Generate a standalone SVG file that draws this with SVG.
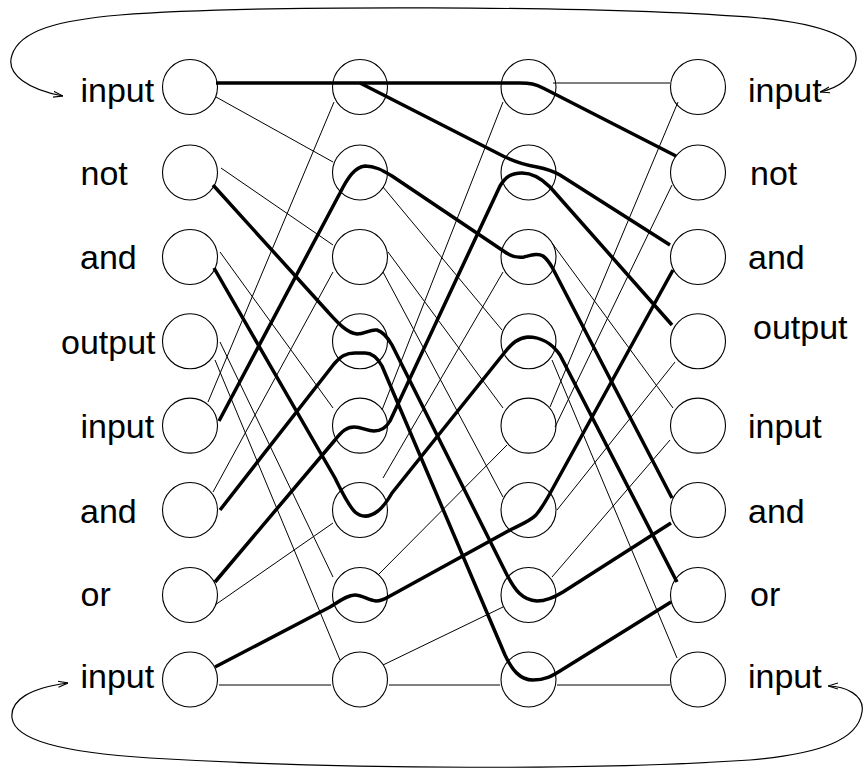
<svg xmlns="http://www.w3.org/2000/svg" width="865" height="773" viewBox="0 0 865 773">
<style>
#nodes circle { fill: #fff; stroke: #000; stroke-width: 1.1; }
.lbl { font-family: "Liberation Sans", Arial, sans-serif; font-size: 34px; fill: #000; }
.thin { fill: none; stroke: #000; stroke-width: 1; }
.thick { fill: none; stroke: #000; stroke-width: 3.5; stroke-linejoin: round; }
.loop { fill: none; stroke: #000; stroke-width: 1.2; marker-start: url(#ah); marker-end: url(#ah); }
</style>
<defs>
<marker id="ah" viewBox="0 0 10 10" refX="10" refY="5" markerWidth="10" markerHeight="10" markerUnits="userSpaceOnUse" orient="auto-start-reverse">
<path d="M0,2 L10,5 L0,8" fill="none" stroke="#000" stroke-width="1.1"/>
</marker>
</defs>
<rect width="865" height="773" fill="#fff"/>

<g id="nodes">
<g id="n1-0"><circle cx="190" cy="87" r="27.5"/><text class="lbl" x="80.5" y="102">input</text></g>
<g id="n1-1"><circle cx="190" cy="172.5" r="27.5"/><text class="lbl" x="80.5" y="185">not</text></g>
<g id="n1-2"><circle cx="190" cy="257" r="27.5"/><text class="lbl" x="80" y="269">and</text></g>
<g id="n1-3"><circle cx="190" cy="341.3" r="27.5"/><text class="lbl" x="61" y="354">output</text></g>
<g id="n1-4"><circle cx="190" cy="425.6" r="27.5"/><text class="lbl" x="80.5" y="438">input</text></g>
<g id="n1-5"><circle cx="190" cy="510" r="27.5"/><text class="lbl" x="80" y="523">and</text></g>
<g id="n1-6"><circle cx="190" cy="595" r="27.5"/><text class="lbl" x="80.5" y="606">or</text></g>
<g id="n1-7"><circle cx="190" cy="679.5" r="27.5"/><text class="lbl" x="80.5" y="688">input</text></g>

<g id="n2-0"><circle cx="360" cy="87" r="27.5"/></g>
<g id="n2-1"><circle cx="360" cy="172.5" r="27.5"/></g>
<g id="n2-2"><circle cx="360" cy="257" r="27.5"/></g>
<g id="n2-3"><circle cx="360" cy="341.3" r="27.5"/></g>
<g id="n2-4"><circle cx="360" cy="425.6" r="27.5"/></g>
<g id="n2-5"><circle cx="360" cy="510" r="27.5"/></g>
<g id="n2-6"><circle cx="360" cy="595" r="27.5"/></g>
<g id="n2-7"><circle cx="360" cy="679.5" r="27.5"/></g>

<g id="n3-0"><circle cx="528.5" cy="87" r="27.5"/></g>
<g id="n3-1"><circle cx="528.5" cy="172.5" r="27.5"/></g>
<g id="n3-2"><circle cx="528.5" cy="257" r="27.5"/></g>
<g id="n3-3"><circle cx="528.5" cy="341.3" r="27.5"/></g>
<g id="n3-4"><circle cx="528.5" cy="425.6" r="27.5"/></g>
<g id="n3-5"><circle cx="528.5" cy="510" r="27.5"/></g>
<g id="n3-6"><circle cx="528.5" cy="595" r="27.5"/></g>
<g id="n3-7"><circle cx="528.5" cy="679.5" r="27.5"/></g>

<g id="n4-0"><circle cx="698" cy="87" r="27.5"/><text class="lbl" x="748" y="102">input</text></g>
<g id="n4-1"><circle cx="698" cy="172.5" r="27.5"/><text class="lbl" x="750" y="185">not</text></g>
<g id="n4-2"><circle cx="698" cy="257" r="27.5"/><text class="lbl" x="748" y="269">and</text></g>
<g id="n4-3"><circle cx="698" cy="341.3" r="27.5"/><text class="lbl" x="753" y="339">output</text></g>
<g id="n4-4"><circle cx="698" cy="425.6" r="27.5"/><text class="lbl" x="748" y="438">input</text></g>
<g id="n4-5"><circle cx="698" cy="510" r="27.5"/><text class="lbl" x="748" y="523">and</text></g>
<g id="n4-6"><circle cx="698" cy="595" r="27.5"/><text class="lbl" x="750" y="606">or</text></g>
<g id="n4-7"><circle cx="698" cy="679.5" r="27.5"/><text class="lbl" x="748" y="688">input</text></g>
</g>

<g id="connectors">
<g id="thin-lines" class="thin">
<line x1="216" y1="97" x2="333" y2="162"/>
<line x1="221" y1="168" x2="333" y2="245"/>
<line x1="220" y1="252" x2="333" y2="408"/>
<line x1="220" y1="342" x2="333" y2="577"/>
<line x1="215" y1="360" x2="340" y2="660"/>
<line x1="208" y1="402" x2="334" y2="102"/>
<line x1="213" y1="492" x2="333" y2="272"/>
<line x1="215" y1="605" x2="333" y2="523"/>
<line x1="219" y1="685" x2="331" y2="685"/>
<line x1="383" y1="187" x2="502" y2="330"/>
<line x1="388" y1="252" x2="503" y2="408"/>
<line x1="383" y1="272" x2="503" y2="497"/>
<line x1="382" y1="410" x2="503" y2="102"/>
<line x1="383" y1="478" x2="503" y2="272"/>
<line x1="378" y1="575" x2="507" y2="445"/>
<line x1="383" y1="665" x2="503" y2="607"/>
<line x1="389" y1="685" x2="500" y2="685"/>
<line x1="553" y1="83" x2="670" y2="83"/>
<line x1="552" y1="243" x2="673" y2="408"/>
<line x1="552" y1="360" x2="677" y2="658"/>
<line x1="550" y1="407" x2="678" y2="102"/>
<line x1="555" y1="427" x2="672" y2="185"/>
<line x1="557" y1="510" x2="675" y2="362"/>
<line x1="552" y1="577" x2="670" y2="440"/>
<line x1="557" y1="685" x2="670" y2="685"/>
</g>
<g id="thick-paths" class="thick">
<path d="M216,83 H520 C530,83 535,84 544,88.5 L676,156"/>
<path d="M360,83 L503,156 C515,162 525,165 537,167 C547,169 553,171 560,175 L670,245"/>
<path d="M219,421 L340,193 C348,177 355,167 365,166 C375,166 382,170 392,176 L505,252 C512,257 518,258 524,257 C532,255 538,253 543,256 C547,259 549,262 552,267 L672,498"/>
<path d="M215,582 L335,440 C342,431 347,427 354,427 C362,427 367,431 374,431 C381,431 386,428 390,421 L500,186 C506,176 512,173 522,173 C532,173 540,177 550,187 L672,325"/>
<path d="M214,268 L335,478 C342,492 348,505 355,512 C362,518 370,517 378,511 C384,506 388,500 392,493 L505,352 C512,343 518,338 528,337 C540,337 552,343 560,355 L677,582"/>
<path d="M213,185 L328,312 C338,323 347,333 357,334 C365,334 370,329 377,330 C384,332 388,338 392,345 L507,575 C515,590 522,600 537,601 C547,601 555,597 563,592 L671,523"/>
<path d="M220,510 L334,364 C341,356 346,353 355,353 L365,353 C372,353 377,357 382,366 L505,655 C512,670 520,680 533,680 C545,680 552,676 560,671 L671,602"/>
<path d="M215,667 L330,607 C340,601 347,595 355,595 C362,595 368,600 376,601 C381,601 385,599 390,596 L512,529 C522,524 530,521 536,515 C541,509 544,504 548,497 L673,270"/>
</g>
<g id="loops">
<path class="loop" d="M820,92 C838,88 854,78 856,60 C858,40 830,25 760,18 C600,5 250,5 120,15 C60,20 20,30 12,55 C5,75 30,90 63,96"/>
<path class="loop" d="M828,686 C845,686 865,695 862,712 C858,740 820,754 750,760 C600,770 350,770 150,758 C60,752 15,740 12,718 C10,700 30,688 68,683"/>
</g>
</g>
</svg>
